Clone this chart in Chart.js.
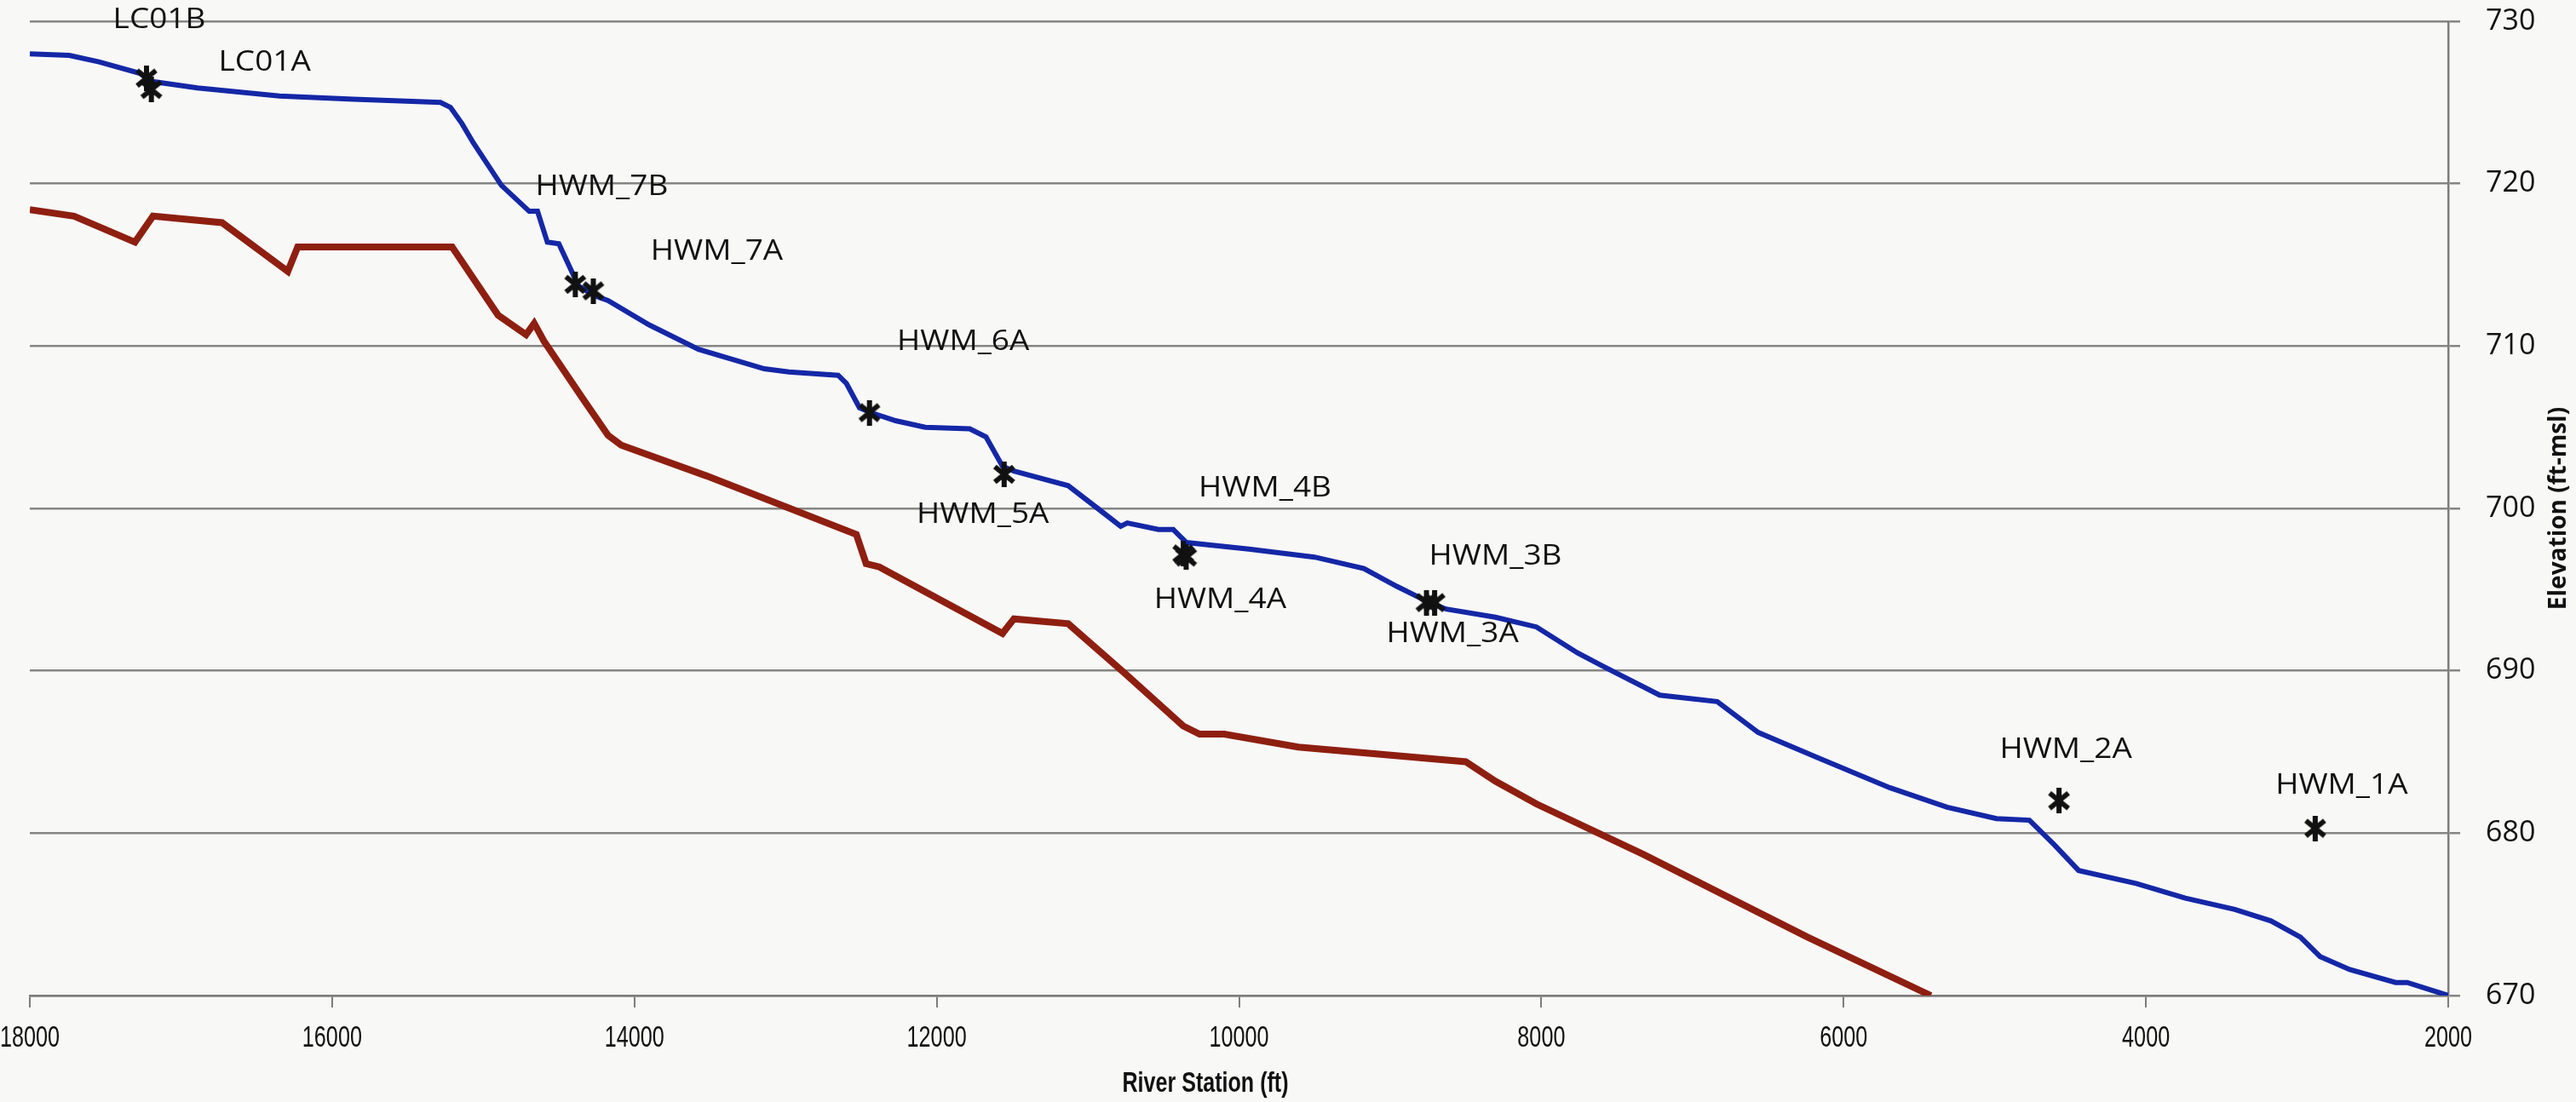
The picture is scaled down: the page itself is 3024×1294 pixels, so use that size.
<!DOCTYPE html>
<html>
<head>
<meta charset="utf-8">
<script src="https://cdn.jsdelivr.net/npm/chart.js@4.4.1/dist/chart.umd.min.js"></script>
<style>
  html, body { margin: 0; padding: 0; background: #f8f8f7; }
</style>
</head>
<body>
<canvas id="chart" width="3024" height="1294"></canvas>
<script>
const stationTicks = [18000, 16000, 14000, 12000, 10000, 8000, 6000, 4000, 2000];
const elevTicks = [670, 680, 690, 700, 710, 720, 730];

// water surface profile
const wsStation = [18000, 17739, 17543, 17272, 17196, 16891, 16348, 15859, 15283, 15217,
  15141, 15065, 14880, 14696, 14641, 14576, 14500, 14370, 14261, 14174,
  13902, 13576, 13141, 12978, 12652, 12598, 12511, 12435, 12272, 12076,
  11782, 11674, 11565, 11489, 11130, 10935, 10783, 10739, 10533, 10435,
  10348, 9935, 9500, 9174, 8956, 8739, 8630, 8304, 8032, 7760,
  7597, 7217, 6836, 6565, 6184, 5695, 5315, 4989, 4771, 4608,
  4445, 4065, 3739, 3412, 3173, 2978, 2848, 2652, 2348, 2271, 2000];
const wsElev = [728.0, 727.9, 727.5, 726.8, 726.3, 725.9, 725.4, 725.2, 725.0, 724.7,
  723.7, 722.5, 719.9, 718.3, 718.3, 716.4, 716.3, 713.7, 713.1, 712.8,
  711.3, 709.8, 708.6, 708.4, 708.2, 707.7, 706.2, 705.9, 705.4, 705.0,
  704.9, 704.4, 702.6, 702.3, 701.4, 700.0, 698.9, 699.1, 698.7, 698.7,
  697.9, 697.5, 697.0, 696.3, 695.2, 694.2, 693.8, 693.3, 692.7, 691.1,
  690.3, 688.5, 688.1, 686.2, 684.7, 682.8, 681.6, 680.9, 680.8, 679.3,
  677.7, 676.9, 676.0, 675.3, 674.6, 673.6, 672.4, 671.6, 670.8, 670.8, 670.0];

// channel bed
const bedStation = [18000, 17707, 17304, 17185, 16728, 16293, 16228, 15206, 14902, 14717,
  14663, 14598, 14337, 14174, 14087, 13522, 12532, 12467, 12380, 11565,
  11489, 11130, 10750, 10369, 10261, 10098, 9608, 8500, 8304, 8032,
  7326, 6239, 5423];
const bedElev = [718.4, 718.0, 716.4, 718.0, 717.6, 714.6, 716.1, 716.1, 711.9, 710.7,
  711.4, 710.3, 706.7, 704.5, 703.9, 702.0, 698.4, 696.6, 696.4, 692.3,
  693.2, 692.9, 689.8, 686.6, 686.1, 686.1, 685.3, 684.4, 683.2, 681.8,
  678.7, 673.6, 670.0];

// high water marks
const hwmNames = ["LC01B", "LC01A", "HWM_7B", "HWM_7A", "HWM_6A", "HWM_5A",
  "HWM_4B", "HWM_4A", "HWM_3B", "HWM_3A", "HWM_2A", "HWM_1A"];
const hwmStation = [17228, 17196, 14391, 14272, 12445, 11554,
  10369, 10350, 8760, 8706, 4575, 2880];
const hwmElev = [726.5, 725.8, 713.8, 713.4, 705.9, 702.1,
  697.2, 697.0, 694.2, 694.2, 682.0, 680.3];

// label offsets from each mark (px)
const labelDx = [15, 133, 31, 145, 110, -25, 96, 40, 81, 21, 8, 31];
const labelDy = [-68, -31, -114, -46, -83, 48, -77, 50, -54, 37, -60, -50];

function starMark(size, lw) {
  const c = document.createElement("canvas");
  c.width = size; c.height = size;
  const g = c.getContext("2d");
  g.strokeStyle = "#111";
  g.lineWidth = lw;
  g.beginPath();
  g.moveTo(4, 6); g.lineTo(size - 4, size - 6);
  g.moveTo(size - 4, 6); g.lineTo(4, size - 6);
  g.moveTo(size / 2, 0); g.lineTo(size / 2, size);
  g.stroke();
  return c;
}

const toPts = (xs, ys) => xs.map((x, i) => ({ x: x, y: ys[i] }));

// squeezed text, the scan's fonts are narrower than what we have here
function drawText(ctx, text, x, y, sx, rot) {
  ctx.save();
  ctx.translate(x, y);
  if (rot) ctx.rotate(rot);
  ctx.scale(sx, 1);
  ctx.fillText(text, 0, 0);
  ctx.restore();
}

const textPlugin = {
  id: "chartText",
  afterDatasetsDraw(chart) {
    const ctx = chart.ctx;
    const xs = chart.scales.x, ys = chart.scales.y;
    ctx.save();
    ctx.fillStyle = "#111";
    ctx.font = "33px 'Open Sans', sans-serif";
    ctx.textAlign = "center";
    ctx.textBaseline = "middle";
    hwmNames.forEach((name, i) => {
      const px = xs.getPixelForValue(hwmStation[i]) + labelDx[i];
      const py = ys.getPixelForValue(hwmElev[i]) + labelDy[i];
      drawText(ctx, name, px, py, 1.12);
    });
    ctx.restore();
  },
  afterDraw(chart) {
    const ctx = chart.ctx;
    const area = chart.chartArea;
    const xs = chart.scales.x;
    ctx.save();
    ctx.fillStyle = "#111";
    ctx.textAlign = "center";
    ctx.textBaseline = "middle";
    // x tick labels
    ctx.font = "35px 'Liberation Sans', sans-serif";
    stationTicks.forEach(v => {
      drawText(ctx, String(v), xs.getPixelForValue(v), area.bottom + 50, 0.72);
    });
    // axis titles
    ctx.font = "bold 33px 'Liberation Sans', sans-serif";
    drawText(ctx, "River Station (ft)", 1415, 1273, 0.76);
    ctx.font = "bold 28px 'Open Sans', sans-serif";
    drawText(ctx, "Elevation (ft-msl)", 3004, (area.top + area.bottom) / 2, 1, -Math.PI / 2);
    ctx.restore();
  }
};

new Chart(document.getElementById("chart"), {
  type: "scatter",
  data: {
    datasets: [
      {
        label: "High Water Marks",
        data: toPts(hwmStation, hwmElev),
        pointStyle: starMark(30, 6),
        pointRadius: 15,
        showLine: false,
        order: 0
      },
      {
        label: "Water Surface",
        data: toPts(wsStation, wsElev),
        showLine: true,
        borderColor: "#1427a6",
        borderWidth: 6,
        pointRadius: 0,
        order: 1
      },
      {
        label: "Channel Bed",
        data: toPts(bedStation, bedElev),
        showLine: true,
        borderColor: "#8e1f10",
        borderWidth: 8,
        pointRadius: 0,
        order: 2
      }
    ]
  },
  options: {
    responsive: false,
    animation: false,
    devicePixelRatio: 1,
    layout: { padding: { top: 25, left: 35, right: 0, bottom: 0 } },
    plugins: {
      legend: { display: false },
      tooltip: { enabled: false }
    },
    scales: {
      x: {
        type: "linear",
        position: "bottom",
        reverse: true,
        min: stationTicks[stationTicks.length - 1],
        max: stationTicks[0],
        afterBuildTicks: s => { s.ticks = stationTicks.map(v => ({ value: v })); },
        afterFit: s => { s.height = 125; s.paddingLeft = 0; s.paddingRight = 0; },
        grid: {
          drawOnChartArea: false,
          drawTicks: true,
          tickLength: 14,
          color: "#7d7d7d",
          lineWidth: 2
        },
        border: { display: true, color: "#7d7d7d", width: 2.5 },
        ticks: { display: false }
      },
      y: {
        type: "linear",
        position: "right",
        min: elevTicks[0],
        max: elevTicks[elevTicks.length - 1],
        afterBuildTicks: s => { s.ticks = elevTicks.map(v => ({ value: v })); },
        afterFit: s => { s.width = 150; s.paddingTop = 0; s.paddingBottom = 0; },
        grid: {
          drawOnChartArea: true,
          drawTicks: true,
          tickLength: 14,
          color: "#858585",
          lineWidth: 2.5
        },
        border: { display: true, color: "#7d7d7d", width: 2.5 },
        ticks: {
          color: "#111",
          padding: 30,
          font: { family: "'Open Sans', sans-serif", size: 34 }
        }
      }
    }
  },
  plugins: [textPlugin]
});
</script>
</body>
</html>
